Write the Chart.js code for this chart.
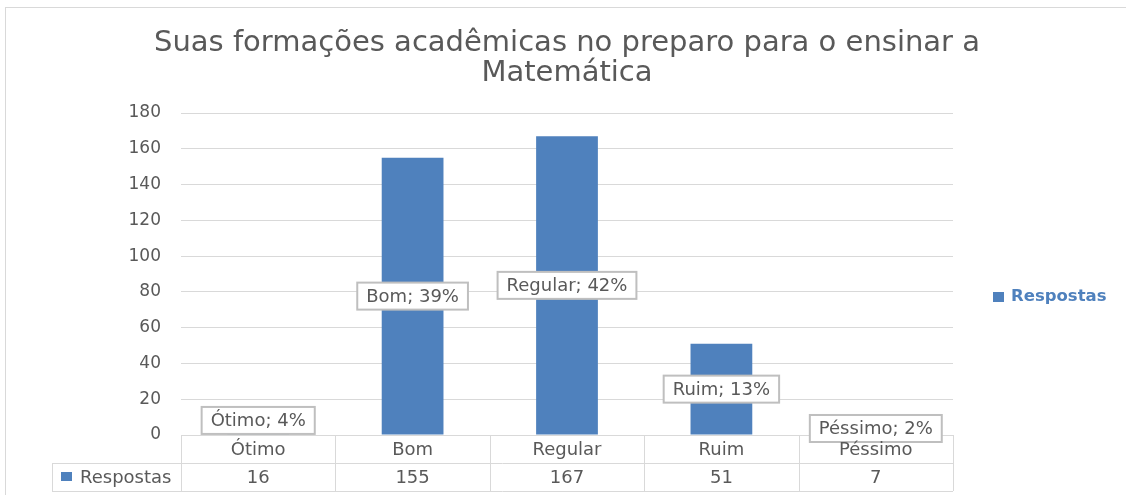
<!DOCTYPE html>
<html>
<head>
<meta charset="utf-8">
<script src="https://cdn.jsdelivr.net/npm/chart.js@4"></script>
<style>
  html, body { margin: 0; padding: 0; background: #fff; }
  #wrap { width: 1126px; height: 495px; }
</style>
</head>
<body>
<div id="wrap"><canvas id="chart"></canvas></div>
<script>
// Data
const categories = ['Ótimo', 'Bom', 'Regular', 'Ruim', 'Péssimo'];
const respostas = [16, 155, 167, 51, 7];
const seriesName = 'Respostas';
const titleLines = ['Suas formações acadêmicas no preparo para o ensinar a', 'Matemática'];
const yTicks = { min: 0, max: 180, step: 20 };

const FONT = '"DejaVu Sans", sans-serif';
const TEXT = '#595959';
const BLUE = '#4f81bd';
const GRID = '#d9d9d9';

const total = respostas.reduce((a, b) => a + b, 0);

// Frame, title, value labels, data table and legend
const excelBits = {
    id: 'excelBits',
    beforeDraw(chart) {
        const ctx = chart.ctx;
        const area = chart.chartArea;
        ctx.save();
        ctx.strokeStyle = GRID;
        ctx.lineWidth = 1;
        ctx.strokeRect(5.5, 7.5, 1300, 600);

        // title, centred over the plot area (the built-in one squeezes it)
        ctx.font = '29px ' + FONT;
        ctx.fillStyle = TEXT;
        ctx.textAlign = 'center';
        ctx.textBaseline = 'middle';
        const cx = (area.left + area.right) / 2;
        titleLines.forEach((line, i) => ctx.fillText(line, cx, 43 + i * 30));
        ctx.restore();
    },
    afterDatasetsDraw(chart) {
        const ctx = chart.ctx;
        const meta = chart.getDatasetMeta(0);
        ctx.save();
        ctx.font = '18px ' + FONT;
        ctx.textAlign = 'center';
        ctx.textBaseline = 'middle';
        meta.data.forEach((bar, i) => {
            const pct = Math.round(respostas[i] / total * 100);
            const txt = categories[i] + '; ' + pct + '%';
            const w = ctx.measureText(txt).width + 18;
            const h = 27;
            const cx = bar.x;
            const cy = (bar.y + bar.base) / 2;
            ctx.fillStyle = '#fff';
            ctx.fillRect(cx - w / 2, cy - h / 2, w, h);
            ctx.strokeStyle = '#bfbfbf';
            ctx.lineWidth = 2;
            ctx.strokeRect(cx - w / 2, cy - h / 2, w, h);
            ctx.fillStyle = TEXT;
            ctx.fillText(txt, cx, cy + 1);
        });
        ctx.restore();
    },
    afterDraw(chart) {
        const ctx = chart.ctx;
        const area = chart.chartArea;
        const x = chart.scales.x;
        const colW = (area.right - area.left) / categories.length;
        const rowH = 28;
        const top = area.bottom;
        const mid = top + rowH;
        const bot = mid + rowH;
        const headLeft = 52;

        ctx.save();
        ctx.strokeStyle = GRID;
        ctx.lineWidth = 1;
        ctx.beginPath();
        ctx.moveTo(headLeft, mid + 0.5); ctx.lineTo(area.right, mid + 0.5);
        ctx.moveTo(headLeft, bot + 0.5); ctx.lineTo(area.right, bot + 0.5);
        ctx.moveTo(headLeft + 0.5, mid); ctx.lineTo(headLeft + 0.5, bot);
        for (let i = 0; i <= categories.length; i++) {
            const xb = Math.round(x.getPixelForValue(0) - colW / 2 + i * colW) + 0.5;
            ctx.moveTo(xb, top); ctx.lineTo(xb, bot);
        }
        ctx.stroke();

        ctx.font = '18px ' + FONT;
        ctx.fillStyle = TEXT;
        ctx.textAlign = 'center';
        ctx.textBaseline = 'middle';
        categories.forEach((c, i) => {
            const cx = x.getPixelForValue(i);
            ctx.fillText(c, cx, top + rowH / 2 + 1);
            ctx.fillText(String(respostas[i]), cx, mid + rowH / 2 + 1);
        });

        // series key in the table
        ctx.fillStyle = BLUE;
        ctx.fillRect(61, mid + 9, 11, 9);
        ctx.fillStyle = TEXT;
        ctx.textAlign = 'left';
        ctx.fillText(seriesName, 80, mid + rowH / 2 + 1);

        // legend on the right
        ctx.fillStyle = BLUE;
        ctx.fillRect(993, 292, 11, 10);
        ctx.font = 'bold 16.5px ' + FONT;
        ctx.fillText(seriesName, 1011, 297);
        ctx.restore();
    }
};

new Chart(document.getElementById('chart'), {
    type: 'bar',
    data: {
        labels: categories,
        datasets: [{
            label: seriesName,
            data: respostas,
            backgroundColor: BLUE,
            borderWidth: 0,
            barPercentage: 0.4,
            categoryPercentage: 1
        }]
    },
    options: {
        responsive: true,
        maintainAspectRatio: false,
        animation: false,
        layout: { padding: { left: 0, right: 173, top: 113, bottom: 60 } },
        plugins: {
            legend: { display: false },
            tooltip: { enabled: false },
            title: { display: false }
        },
        scales: {
            x: { display: false },
            y: {
                min: yTicks.min,
                max: yTicks.max,
                ticks: {
                    stepSize: yTicks.step,
                    color: TEXT,
                    padding: 20,
                    font: { family: FONT, size: 17 }
                },
                grid: { color: GRID, drawTicks: false },
                border: { display: false },
                afterFit(scale) { scale.width = 181; }
            }
        }
    },
    plugins: [excelBits]
});
</script>
</body>
</html>
